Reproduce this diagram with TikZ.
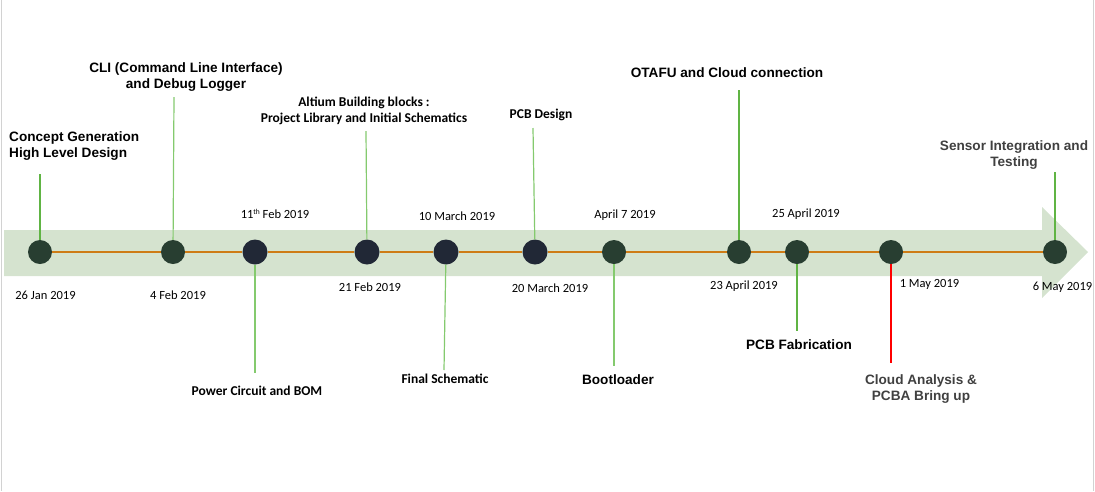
\documentclass[tikz,border=0pt]{standalone}
\usepackage{fontspec}
\setmainfont{Carlito}
\newfontfamily\arialfont{Liberation Sans}
\usetikzlibrary{positioning}

\definecolor{bandgreen}{RGB}{213,227,207}
\definecolor{linkorange}{RGB}{206,124,22}
\definecolor{dotgreen}{RGB}{40,62,49}
\definecolor{dotnavy}{RGB}{33,40,54}
\definecolor{stemgreen}{RGB}{96,180,68}
\definecolor{stemlight}{RGB}{132,202,110}
\definecolor{textgray}{RGB}{64,64,64}

\begin{document}
\begin{tikzpicture}[x=1pt, y=-1pt,
    gdot/.style={circle, fill=dotgreen, minimum size=24pt, inner sep=0pt},
    ndot/.style={circle, fill=dotnavy, minimum size=25pt, inner sep=0pt},
    datelbl/.style={font=\fontsize{12.5}{15}\selectfont, inner sep=0pt},
    arlbl/.style={font=\fontsize{13.6}{16}\selectfont\arialfont\bfseries, align=center, inner sep=0pt},
    cblbl/.style={font=\fontsize{13.5}{16}\selectfont\bfseries, align=center, inner sep=0pt},
    stem/.style={stemgreen, line width=1.2pt},
    stemb/.style={stemlight, line width=1.2pt}]
	% Rahmen
	\useasboundingbox (0,0) rectangle (1095,491);
	\draw[gray!35, line width=1.5pt] (1.5,0) -- (1.5,491);
	\draw[gray!35, line width=1.5pt] (1093.5,0) -- (1093.5,491);
	
	% Pfeilband
	\fill[bandgreen] (4,230) -- (1042,230) -- (1042,207) -- (1088,252) -- (1042,298) -- (1042,276) -- (4,276) -- cycle;
	
	% Meilensteine
	\node[gdot] (c1) at (40,252) {};
	\node[gdot] (c2) at (173,252) {};
	\node[ndot] (c3) at (255,252) {};
	\node[ndot] (c4) at (367,252) {};
	\node[ndot] (c5) at (446,252) {};
	\node[ndot] (c6) at (535,252) {};
	\node[gdot] (c7) at (614,252) {};
	\node[gdot] (c8) at (739,252) {};
	\node[gdot] (c9) at (797,252) {};
	\node[gdot] (c10) at (891,252) {};
	\node[gdot] (c11) at (1055,252) {};
	
	% Zeitachse
	\foreach \i [count=\j from 2] in {1,...,10}
		\draw[linkorange, line width=2pt] (c\i) -- (c\j);
	
	% Daten
	\node[datelbl] (d1) at (45.5,295) {26 Jan 2019};
	\node[datelbl] (d2) at (178,295) {4 Feb 2019};
	\node[datelbl] (d3) at (275,214) {11\raisebox{4pt}{\fontsize{7.5}{8}\selectfont th} Feb 2019};
	\node[datelbl] (d4) at (370,287) {21 Feb 2019};
	\node[datelbl] (d5) at (457,216) {10 March 2019};
	\node[datelbl] (d6) at (550,288) {20 March 2019};
	\node[datelbl] (d7) at (625,215) {April 7 2019};
	\node[datelbl] (d8) at (744,286) {23 April 2019};
	\node[datelbl] (d9) at (806,214) {25 April 2019};
	\node[datelbl] (d10) at (929.5,284) {1 May 2019};
	\node[datelbl] (d11) at (1062.5,287) {6 May 2019};
	
	% Aufgaben oben
	\node[arlbl, align=left, anchor=west] (t1) at (9,146) {Concept Generation\\High Level Design};
	\node[arlbl] (t2) at (186,77) {CLI (Command Line Interface)\\and Debug Logger};
	\node[cblbl] (t4) at (364,111) {Altium Building blocks :\\Project Library and Initial Schematics};
	\node[cblbl] (t6) at (541,115) {PCB Design};
	\node[arlbl] (t8) at (727,73) {OTAFU and Cloud connection};
	\node[arlbl, text=textgray] (t11) at (1014,155) {Sensor Integration and\\Testing};
	
	% Aufgaben unten
	\node[cblbl] (t3) at (257,391) {Power Circuit and BOM};
	\node[cblbl] (t5) at (445,379) {Final Schematic};
	\node[arlbl] (t7) at (618,380) {Bootloader};
	\node[arlbl] (t9) at (799,345) {PCB Fabrication};
	\node[arlbl, text=textgray] (t10) at (921,389) {Cloud Analysis \&\\PCBA Bring up};
	
	% Verbindungen
	\coordinate (e1) at (40,174);
	\coordinate (e2) at (174,97);
	\coordinate (e3) at (255,373);
	\coordinate (e4) at (366,131);
	\coordinate (e5) at (444,370);
	\coordinate (e6) at (533,128);
	\coordinate (e7) at (614,366);
	\coordinate (e8) at (739,90);
	\coordinate (e9) at (797,331);
	\coordinate (e10) at (891,363);
	\coordinate (e11) at (1055,172);
	\draw[stem] (c1) -- (e1);
	\draw[stemb] (c2) -- (e2);
	\draw[stemb] (c3) -- (e3);
	\draw[stemb] (c4) -- (e4);
	\draw[stemb] (c5) -- (e5);
	\draw[stemb] (c6) -- (e6);
	\draw[stemb] (c7) -- (e7);
	\draw[stem] (c8) -- (e8);
	\draw[stem] (c9) -- (e9);
	\draw[red, line width=2pt] (c10) -- (e10);
	\draw[stem] (c11) -- (e11);
\end{tikzpicture}
\end{document}
